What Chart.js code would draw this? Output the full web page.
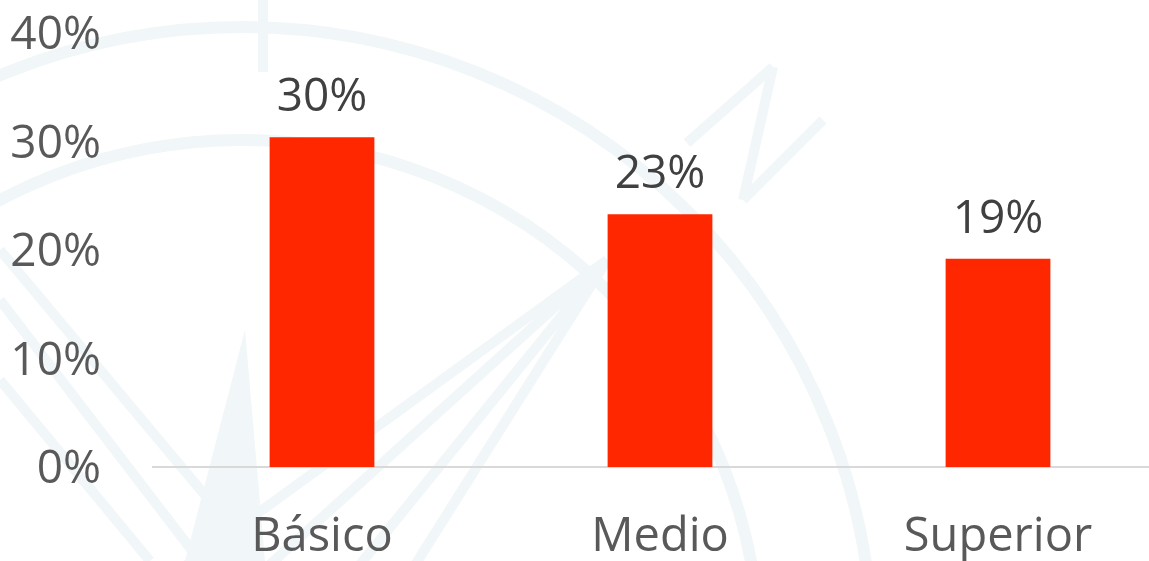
<!DOCTYPE html>
<html>
<head>
<meta charset="utf-8">
<script src="https://cdn.jsdelivr.net/npm/chart.js@4/dist/chart.umd.min.js"></script>
<style>
  html, body { margin: 0; padding: 0; background: #ffffff; overflow: hidden; }
  #wrap { width: 1172px; height: 561px; position: relative; }
</style>
</head>
<body>
<div id="wrap"><canvas id="c" width="1172" height="561"></canvas></div>
<script>
const categories = ['Básico', 'Medio', 'Superior'];
const values = [30.4, 23.3, 19.2];
const yTicks = [0, 10, 20, 30, 40];

const FONT = '"Open Sans", sans-serif';
const TEXT = '#595959';

const watermark = {
  id: 'watermark',
  beforeDraw(chart) {
    const ctx = chart.ctx;
    ctx.save();
    ctx.fillStyle = '#ffffff';
    ctx.fillRect(0, 0, chart.width, chart.height);
    ctx.strokeStyle = '#F1F6F8';
    ctx.lineWidth = 12;
    ctx.beginPath(); ctx.arc(242, 658, 631, 0, Math.PI * 2); ctx.stroke();
    ctx.beginPath(); ctx.arc(242, 658, 518, 0, Math.PI * 2); ctx.stroke();
    ctx.lineWidth = 10;
    const segs = [
      [263, 0, 263, 72],
      [607, 260, 0, 700], [607, 260, 120, 700], [607, 260, 250, 700], [607, 260, 330, 700],
      [0, 300, 200, 561], [0, 380, 150, 561], [0, 250, 260, 561],
      [687, 143, 773, 67], [773, 67, 743, 200], [743, 200, 823, 120]
    ];
    segs.forEach(s => { ctx.beginPath(); ctx.moveTo(s[0], s[1]); ctx.lineTo(s[2], s[3]); ctx.stroke(); });
    ctx.fillStyle = '#F1F6F8';
    ctx.beginPath(); ctx.moveTo(245, 330); ctx.lineTo(265, 561); ctx.lineTo(185, 561); ctx.closePath(); ctx.fill();
    ctx.restore();
  }
};

const dataLabels = {
  id: 'dataLabels',
  afterDatasetsDraw(chart) {
    const ctx = chart.ctx;
    const meta = chart.getDatasetMeta(0);
    ctx.save();
    ctx.font = '46px ' + FONT;
    ctx.fillStyle = '#404040';
    ctx.textAlign = 'center';
    ctx.textBaseline = 'middle';
    meta.data.forEach((bar, i) => {
      ctx.fillText(Math.round(values[i]) + '%', bar.x, bar.y - 39);
    });
    ctx.restore();
  }
};

new Chart(document.getElementById('c'), {
  type: 'bar',
  data: {
    labels: categories,
    datasets: [{
      data: values,
      backgroundColor: '#FF2700',
      categoryPercentage: 1,
      barPercentage: 0.31
    }]
  },
  options: {
    responsive: false,
    animation: false,
    events: [],
    layout: { padding: { top: 33, right: 5, left: 0, bottom: 0 } },
    plugins: { legend: { display: false }, tooltip: { enabled: false } },
    scales: {
      x: {
        grid: { display: false, drawTicks: false },
        border: { display: true, color: '#D9D9D9', width: 2 },
        ticks: { color: TEXT, font: { family: FONT, size: 47 }, padding: 42, maxRotation: 0 },
        afterFit(s) { s.height = 94; s.paddingLeft = 0; s.paddingRight = 0; }
      },
      y: {
        min: 0, max: 40,
        afterBuildTicks(s) { s.ticks = yTicks.map(v => ({ value: v })); },
        grid: { display: false, drawTicks: false },
        border: { display: false },
        ticks: { color: TEXT, font: { family: FONT, size: 46 }, padding: 52, labelOffset: 3,
                 callback: v => v + '%' },
        afterFit(s) { s.width = 153; s.paddingTop = 0; s.paddingBottom = 0; }
      }
    }
  },
  plugins: [watermark, dataLabels]
});
</script>
</body>
</html>
